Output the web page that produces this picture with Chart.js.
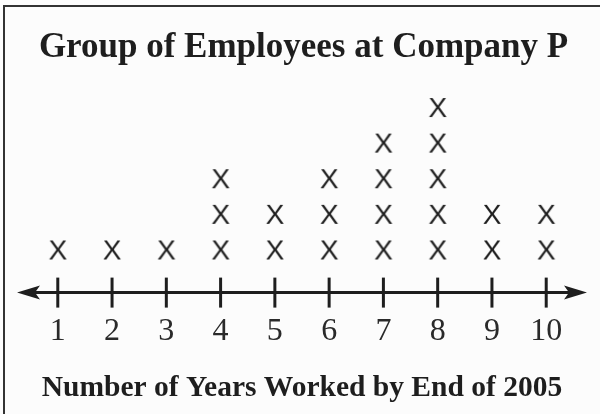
<!DOCTYPE html>
<html>
<head>
<meta charset="utf-8">
<script src="https://cdn.jsdelivr.net/npm/chart.js@4"></script>
<style>
  html, body { margin: 0; padding: 0; background: #fcfcfc; }
  #wrap { width: 600px; height: 414px; }
</style>
</head>
<body>
<div id="wrap"><canvas id="chart" width="600" height="414"></canvas></div>
<script>
// dados do gráfico
const years = [1, 2, 3, 4, 5, 6, 7, 8, 9, 10];
const counts = [1, 1, 1, 3, 2, 3, 4, 5, 2, 2];
const tickLabels = ['1', '2', '3', '4', '5', '6', '7', '8', '9', '10'];

// um ponto por funcionário, empilhado
const points = [];
years.forEach((yr, i) => {
    for (let k = 1; k <= counts[i]; k++) points.push({ x: yr, y: k });
});

// marcador "X" como imagem
function makeX() {
    const c = document.createElement('canvas');
    c.width = 26; c.height = 28;
    const g = c.getContext('2d');
    g.fillStyle = '#1e1e1e';
    g.font = '28px "Liberation Sans"';
    g.textAlign = 'center';
    g.textBaseline = 'alphabetic';
    g.fillText('X', 13, 24);
    return c;
}

const ink = '#1e1e1e';

// eixo com setas, marcas e moldura
const axisPlugin = {
    id: 'numberLine',
    beforeDraw(chart) {
        const ctx = chart.ctx;
        ctx.save();
        ctx.strokeStyle = '#333';
        ctx.lineWidth = 2;
        ctx.beginPath();
        ctx.moveTo(4, 414); ctx.lineTo(4, 6); ctx.lineTo(600, 6);
        ctx.stroke();
        ctx.restore();
    },
    afterDatasetsDraw(chart) {
        const { ctx, chartArea } = chart;
        const xs = chart.scales.x;
        const y = chartArea.bottom;
        const l = chartArea.left, r = chartArea.right;
        ctx.save();
        ctx.strokeStyle = ink;
        ctx.fillStyle = ink;
        ctx.lineWidth = 3;
        ctx.beginPath();
        ctx.moveTo(l + 10, y); ctx.lineTo(r - 10, y);
        ctx.stroke();
        years.forEach(v => {
            const px = xs.getPixelForValue(v);
            ctx.beginPath();
            ctx.moveTo(px, y - 15); ctx.lineTo(px, y + 15);
            ctx.stroke();
        });
        // setas
        ctx.beginPath();
        ctx.moveTo(l, y); ctx.lineTo(l + 23, y - 7); ctx.lineTo(l + 18, y); ctx.lineTo(l + 23, y + 7);
        ctx.closePath(); ctx.fill();
        ctx.beginPath();
        ctx.moveTo(r, y); ctx.lineTo(r - 23, y - 7); ctx.lineTo(r - 18, y); ctx.lineTo(r - 23, y + 7);
        ctx.closePath(); ctx.fill();
        ctx.restore();
    }
};

new Chart(document.getElementById('chart').getContext('2d'), {
    type: 'scatter',
    data: {
        datasets: [{
            data: points,
            pointStyle: makeX(),
            pointRadius: 12,
            pointHoverRadius: 12
        }]
    },
    options: {
        responsive: false,
        animation: false,
        events: [],
        layout: { padding: { left: 17, right: 10, top: 0, bottom: 4 } },
        plugins: {
            legend: { display: false },
            tooltip: { enabled: false },
            title: {
                display: true,
                text: 'Group of Employees at Company P',
                color: ink,
                font: { family: '"Liberation Serif"', size: 35, weight: 'bold' },
                padding: { top: 27, bottom: 12 }
            }
        },
        scales: {
            x: {
                type: 'linear',
                min: 0.2485,
                max: 10.7515,
                grid: { display: false, drawTicks: false },
                border: { display: false },
                afterBuildTicks: s => { s.ticks = years.map(v => ({ value: v })); },
                ticks: {
                    autoSkip: false,
                    maxRotation: 0,
                    padding: 23,
                    color: '#2a2a2a',
                    font: { family: '"Liberation Serif"', size: 32, lineHeight: 1 },
                    callback: (v) => tickLabels[years.indexOf(v)] ?? ''
                },
                title: {
                    display: true,
                    text: 'Number of Years Worked by End of 2005',
                    color: ink,
                    font: { family: '"Liberation Serif"', size: 29.5, weight: 'bold' },
                    padding: { top: 0, bottom: 4 }
                }
            },
            y: {
                display: false,
                min: -0.211,
                max: 5.73
            }
        }
    },
    plugins: [axisPlugin]
});
</script>
</body>
</html>
